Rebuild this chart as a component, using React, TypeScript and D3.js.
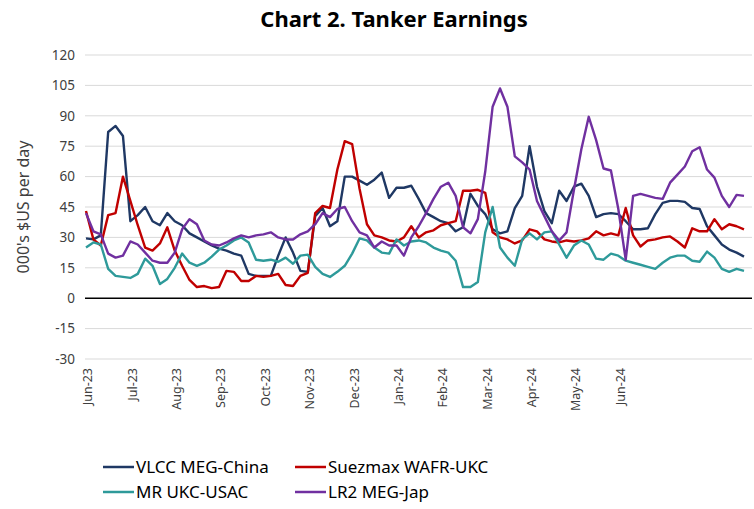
import { useEffect, useRef } from "react";
import * as d3 from "d3";

// month tick labels (one every 6 observations)
const months = [
  "Jun-23", "Jul-23", "Aug-23", "Sep-23", "Oct-23", "Nov-23", "Dec-23",
  "Jan-24", "Feb-24", "Mar-24", "Apr-24", "May-24", "Jun-24",
];
const yTicks = [-30, -15, 0, 15, 30, 45, 60, 75, 90, 105, 120];

// 000's $US per day
const vlcc = [
  29.5, 29, 31, 82, 85, 80, 38, 41, 45, 38, 36, 42, 38, 36, 32, 30, 28, 26,
  24.5, 23.5, 22, 21, 12, 11, 11, 11, 21, 30, 22.5, 13.5, 13, 40.5, 44.5, 35.5,
  38, 60, 60, 58, 56, 58.5, 62, 49.5, 54.5, 54.5, 55.5, 49, 42, 40, 38, 37, 33,
  35, 51.5, 45.5, 41.5, 34, 32, 33, 44.5, 50.5, 75, 55, 43, 37, 53, 48, 55,
  56.5, 50.5, 40, 41.5, 42, 41.5, 38, 34, 34, 34.5, 41.5, 47, 48, 48, 47.5,
  44.5, 44, 35.5, 31, 26.5, 24, 22.5, 20.5,
];
const suezmax = [
  43, 29, 26, 41, 42, 60, 48, 36, 25, 23.5, 27, 35, 23.5, 16, 9, 5.5, 6, 5,
  5.5, 13.5, 13, 8.5, 8.5, 11, 10.5, 11, 12, 6.5, 6, 11, 12.5, 42, 45.5, 44.5,
  63.5, 77.5, 76, 54, 36.5, 31, 30, 28.5, 28, 30, 35.5, 30, 32.5, 33.5, 36, 37,
  38, 53, 53, 53.5, 52, 32.5, 30, 29, 27, 28.5, 34, 33, 29, 28, 27.5, 28.5, 28,
  28.5, 29.5, 33, 31, 32, 31, 44.5, 31, 25.5, 28.5, 29, 30, 30.5, 28, 25, 34.5,
  33, 33, 39, 34, 36.5, 35.5, 34,
];
const mr = [
  25, 27.5, 26.5, 14.5, 11, 10.5, 10, 12, 19.5, 16, 7, 9.5, 15, 22, 17.5, 16,
  17.5, 20.5, 24, 26, 28.5, 30, 27.5, 19, 18.5, 19, 18, 20, 17, 21, 21.5, 15.5,
  12, 10.5, 13, 16, 22, 29.5, 28.5, 25, 22.5, 22, 29, 26, 28, 28.5, 27.5, 25,
  23.5, 22.5, 18.5, 5.5, 5.5, 8, 32.5, 45, 25, 20, 16, 29, 32, 29, 32.5, 33,
  26.5, 20, 26, 28.5, 26.5, 19.5, 19, 22, 21, 18.5, 17.5, 16.5, 15.5, 14.5,
  17.5, 20, 21, 21, 18.5, 18, 23, 20, 14.5, 13, 14.5, 13.5,
];
const lr2 = [
  42, 33, 31.5, 22, 20, 21, 28, 26.5, 22.5, 18.5, 17.5, 17.5, 22.5, 34, 39,
  36.5, 28.5, 26.5, 26, 27.5, 29.5, 31, 30, 31, 31.5, 32.5, 30, 29, 29, 31.5,
  33, 36.5, 42, 40, 44, 45, 38, 32.5, 31, 25, 28, 26, 26, 21, 30, 35.5, 42, 49,
  55, 57, 50.5, 35, 32, 39, 62.5, 94.5, 103.5, 94.5, 70, 67, 63.5, 48, 40.5,
  33, 28.5, 32.5, 53.5, 73.5, 89.5, 78, 64, 63, 44, 19, 50.5, 51.5, 50.5, 49.5,
  49, 57, 61, 65, 72.5, 74.5, 63.5, 59.5, 50.5, 45, 51, 50.5,
];

const series = [
  { name: "VLCC MEG-China", values: vlcc, color: "#1f3864" },
  { name: "Suezmax WAFR-UKC", values: suezmax, color: "#c00000" },
  { name: "MR UKC-USAC", values: mr, color: "#2e9a9a" },
  { name: "LR2 MEG-Jap", values: lr2, color: "#7030a0" },
];

const App = () => {
  const svgRef = useRef<SVGSVGElement>(null);

  useEffect(() => {
    const font = "'Noto Sans', sans-serif";
    const svg = d3.select(svgRef.current);
    svg.selectAll("*").remove();

    const x = d3.scaleLinear().domain([0, vlcc.length - 1]).range([86, 744]);
    const y = d3.scaleLinear().domain([-30, 120]).range([359, 55]);
    const plotLeft = 85;
    const plotRight = 752;

    // title
    svg.append("text")
      .attr("x", 394)
      .attr("y", 27)
      .attr("text-anchor", "middle")
      .attr("font-family", font)
      .attr("font-weight", "bold")
      .attr("font-size", 22)
      .attr("fill", "#000")
      .text("Chart 2. Tanker Earnings");

    // gridlines
    svg.append("g")
      .selectAll("line")
      .data(yTicks.filter((d) => d !== 0))
      .join("line")
      .attr("x1", plotLeft)
      .attr("x2", plotRight)
      .attr("y1", (d) => y(d))
      .attr("y2", (d) => y(d))
      .attr("stroke", "#d9d9d9")
      .attr("stroke-width", 1);

    // y tick labels
    svg.append("g")
      .selectAll("text")
      .data(yTicks)
      .join("text")
      .attr("x", 75)
      .attr("y", (d) => y(d))
      .attr("dy", "0.35em")
      .attr("text-anchor", "end")
      .attr("font-family", font)
      .attr("font-size", 13.5)
      .attr("fill", "#404040")
      .text((d) => d);

    // y axis title
    svg.append("text")
      .attr("transform", `translate(23, ${y(45)}) rotate(-90)`)
      .attr("text-anchor", "middle")
      .attr("dy", "0.35em")
      .attr("font-family", font)
      .attr("font-size", 16)
      .attr("fill", "#404040")
      .text("000's $US per day");

    // x labels (rotated)
    svg.append("g")
      .selectAll("text")
      .data(months)
      .join("text")
      .attr("transform", (_, k) => `translate(${x(k * 6) + 2}, 368) rotate(-90)`)
      .attr("text-anchor", "end")
      .attr("dy", "0.35em")
      .attr("font-family", font)
      .attr("font-size", 12.5)
      .attr("fill", "#404040")
      .text((d) => d);

    // lines
    const line = d3
      .line<number>()
      .x((_, i) => x(i))
      .y((d) => y(d));

    svg.append("g")
      .selectAll("path")
      .data(series)
      .join("path")
      .attr("d", (s) => line(s.values))
      .attr("fill", "none")
      .attr("stroke", (s) => s.color)
      .attr("stroke-width", 2.4)
      .attr("stroke-linejoin", "round");

    // zero line
    svg.append("line")
      .attr("x1", plotLeft)
      .attr("x2", plotRight)
      .attr("y1", y(0))
      .attr("y2", y(0))
      .attr("stroke", "#000")
      .attr("stroke-width", 1.5);

    // legend
    const legendPos = [
      [103, 467],
      [295, 467],
      [103, 492],
      [295, 492],
    ];
    const lg = svg.append("g")
      .selectAll("g")
      .data(series)
      .join("g")
      .attr("transform", (_, i) => `translate(${legendPos[i][0]}, ${legendPos[i][1]})`);
    lg.append("line")
      .attr("x1", 0)
      .attr("x2", 31)
      .attr("stroke", (s) => s.color)
      .attr("stroke-width", 2.5);
    lg.append("text")
      .attr("x", 33)
      .attr("dy", "0.35em")
      .attr("font-family", font)
      .attr("font-size", 17)
      .attr("fill", "#000")
      .text((s) => s.name);
  }, []);

  return (
    <div style={{ position: "absolute", left: 0, top: 0, background: "#fff" }}>
      <svg ref={svgRef} width={754} height={509} />
    </div>
  );
};

export default App;
